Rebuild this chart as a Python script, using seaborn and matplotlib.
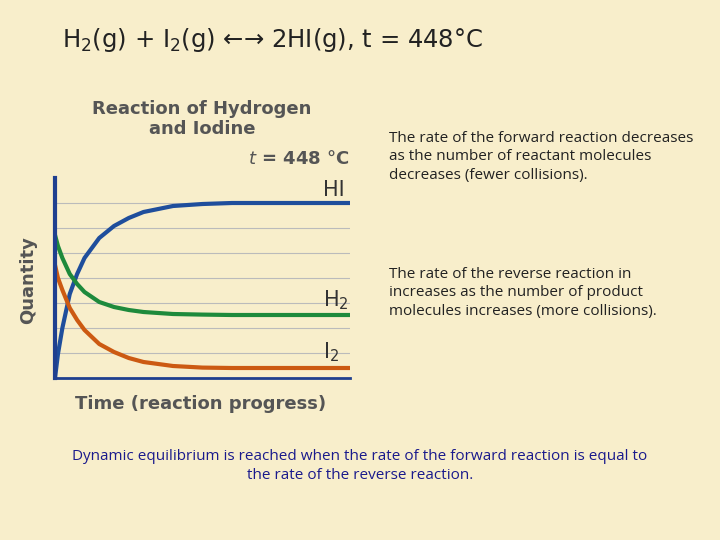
import matplotlib
matplotlib.use("Agg")
import matplotlib.pyplot as plt
import seaborn as sns
import pandas as pd

sns.set_style("white")
plt.rcParams['font.family'] = ['DejaVu Sans']

time = [0, 0.1, 0.25, 0.5, 0.75, 1, 1.5, 2, 2.5, 3, 4, 5, 6, 8, 10]
hi = [0, 12, 25, 42, 52, 60, 70, 76, 80, 83, 86, 87, 87.5, 87.5, 87.5]
h2 = [71.5, 66, 60, 52, 47, 43, 38, 35.5, 34, 33, 32, 31.7, 31.5, 31.5, 31.5]
i2 = [56.5, 50, 44, 35, 29, 24, 17, 13, 10, 8, 6, 5.2, 5, 5, 5]
series = {"HI": (hi, "#1f4e9c"), "H2": (h2, "#1e8a3c"), "I2": (i2, "#cc5a12")}

bg = "#f8eecb"
fig = plt.figure(figsize=(7.2, 5.4), dpi=100, facecolor=bg)
ax = fig.add_axes([55/720, 1-378/540, 295/720, 200/540], facecolor=bg)
for name, (vals, col) in series.items():
    df = pd.DataFrame({"t": time, "q": vals})
    sns.lineplot(data=df, x="t", y="q", color=col, lw=3, ax=ax)
ax.set_xlim(0, 10); ax.set_ylim(0, 100)
for y in [12.5, 25, 37.5, 50, 62.5, 75, 87.5]:
    ax.axhline(y, color="#bbbbbb", lw=0.8, zorder=0)
ax.set_xticks([]); ax.set_yticks([]); ax.set_xlabel(""); ax.set_ylabel("")
for s in ["top", "right"]:
    ax.spines[s].set_visible(False)
ax.spines["left"].set_color("#1f3f8f"); ax.spines["left"].set_linewidth(3)
ax.spines["bottom"].set_color("#1f3f8f"); ax.spines["bottom"].set_linewidth(2)

ft = lambda x, y, s, **k: fig.text(x/720, 1-y/540, s, **k)
ft(62, 40, "H$_2$(g) + I$_2$(g) ←→ 2HI(g), t = 448°C", fontsize=17.5, va="center", color="#222")
ft(202, 119, "Reaction of Hydrogen\nand Iodine", fontsize=13, fontweight="bold", color="#555", ha="center", va="center", linespacing=1.2)
ft(350, 159, "$t$ = 448 °C", fontsize=13, fontweight="bold", color="#555", ha="right", va="center")
ft(323, 190, "HI", fontsize=15, color="#333", va="center")
ft(323, 300, "H$_2$", fontsize=15, color="#333", va="center")
ft(323, 352, "I$_2$", fontsize=15, color="#333", va="center")
ft(28, 280, "Quantity", fontsize=13, fontweight="bold", color="#555", rotation=90, ha="center", va="center")
ft(201, 404, "Time (reaction progress)", fontsize=13, fontweight="bold", color="#555", ha="center", va="center")
ft(389, 157, "The rate of the forward reaction decreases\nas the number of reactant molecules\ndecreases (fewer collisions).",
   fontsize=11, family="Open Sans", color="#222", va="center", linespacing=1.35)
ft(389, 293, "The rate of the reverse reaction in\nincreases as the number of product\nmolecules increases (more collisions).",
   fontsize=11, family="Open Sans", color="#222", va="center", linespacing=1.35)
ft(360, 466, "Dynamic equilibrium is reached when the rate of the forward reaction is equal to\nthe rate of the reverse reaction.",
   fontsize=11, family="Open Sans", color="#1a1a8c", ha="center", va="center", linespacing=1.35)
fig.savefig("out.png", dpi=100, facecolor=bg)
